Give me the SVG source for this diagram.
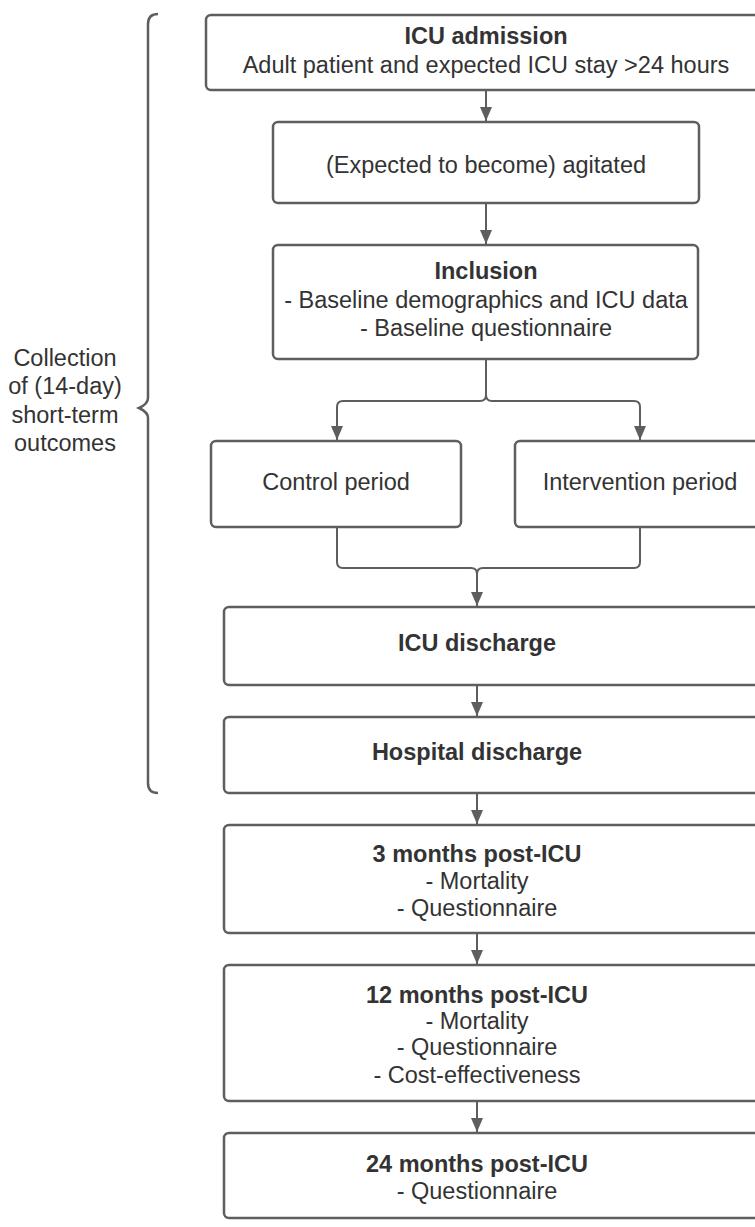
<svg xmlns="http://www.w3.org/2000/svg" width="755" height="1227" viewBox="0 0 755 1227">
<style>
.box{fill:#fff;stroke:#5e5e5e;stroke-width:2.5}
.ln{fill:none;stroke:#5e5e5e;stroke-width:2}
text{font-family:"Liberation Sans",Arial,sans-serif;font-size:23.5px;fill:#333;text-anchor:middle}
.b{font-weight:bold}
</style>
<defs>
<marker id="ah" viewBox="0 0 14 12" refX="14" refY="6" markerWidth="14" markerHeight="12" markerUnits="userSpaceOnUse" orient="auto">
<path d="M0,0 L14,6 L0,12 z" fill="#5e5e5e"/>
</marker>
</defs>
<g id="connectors">
<path class="ln" d="M486,91 V121" marker-end="url(#ah)"/>
<path class="ln" d="M486,204 V244" marker-end="url(#ah)"/>
<path class="ln" d="M486,360 V395 Q486,401 480,401 H343 Q337,401 337,407 V440" marker-end="url(#ah)"/>
<path class="ln" d="M486,395 Q486,401 492,401 H634 Q640,401 640,407 V440" marker-end="url(#ah)"/>
<path class="ln" d="M337,528 V562 Q337,568 343,568 H471 Q477,568 477,574 V606" marker-end="url(#ah)"/>
<path class="ln" d="M640,528 V562 Q640,568 634,568 H483 Q477,568 477,574"/>
<path class="ln" d="M477,686 V716" marker-end="url(#ah)"/>
<path class="ln" d="M477,794 V824" marker-end="url(#ah)"/>
<path class="ln" d="M477,934 V964" marker-end="url(#ah)"/>
<path class="ln" d="M477,1102 V1132" marker-end="url(#ah)"/>
<path class="ln" style="stroke-width:2.5" d="M158,14 Q148,14 148,24 V398 Q148,404 139,408 Q148,412 148,418 V783 Q148,793 158,793"/>
</g>
<g id="brace-label">
<text x="65" y="366">Collection</text>
<text x="65" y="394">of (14-day)</text>
<text x="65" y="423">short-term</text>
<text x="65" y="451">outcomes</text>
</g>
<g id="n1"><rect class="box" x="206" y="15" width="560" height="75" rx="5"/>
<text class="b" x="486" y="44">ICU admission</text>
<text x="486" y="73">Adult patient and expected ICU stay &gt;24 hours</text></g>
<g id="n2"><rect class="box" x="273" y="122" width="426" height="81" rx="5"/>
<text x="486" y="173">(Expected to become) agitated</text></g>
<g id="n3"><rect class="box" x="273" y="245" width="425" height="114" rx="5"/>
<text class="b" x="486" y="279">Inclusion</text>
<text x="486" y="308">- Baseline demographics and ICU data</text>
<text x="486" y="336">- Baseline questionnaire</text></g>
<g id="n4"><rect class="box" x="211" y="441" width="250" height="86" rx="5"/>
<text x="336" y="490">Control period</text></g>
<g id="n5"><rect class="box" x="515" y="441" width="250" height="86" rx="5"/>
<text x="640" y="490">Intervention period</text></g>
<g id="n6"><rect class="box" x="224" y="607" width="540" height="78" rx="5"/>
<text class="b" x="477" y="651">ICU discharge</text></g>
<g id="n7"><rect class="box" x="224" y="717" width="540" height="76" rx="5"/>
<text class="b" x="477" y="760">Hospital discharge</text></g>
<g id="n8"><rect class="box" x="224" y="825" width="540" height="108" rx="5"/>
<text class="b" x="477" y="862">3 months post-ICU</text>
<text x="477" y="889">- Mortality</text>
<text x="477" y="916">- Questionnaire</text></g>
<g id="n9"><rect class="box" x="224" y="965" width="540" height="136" rx="5"/>
<text class="b" x="477" y="1003">12 months post-ICU</text>
<text x="477" y="1029">- Mortality</text>
<text x="477" y="1055">- Questionnaire</text>
<text x="477" y="1083">- Cost-effectiveness</text></g>
<g id="n10"><rect class="box" x="224" y="1133" width="540" height="85" rx="5"/>
<text class="b" x="477" y="1172">24 months post-ICU</text>
<text x="477" y="1199">- Questionnaire</text></g>
</svg>
